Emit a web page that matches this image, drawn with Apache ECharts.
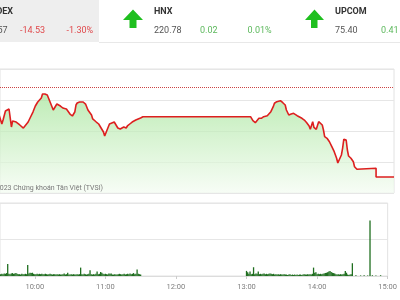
<!DOCTYPE html>
<html><head><meta charset="utf-8">
<script src="https://cdn.jsdelivr.net/npm/echarts/dist/echarts.min.js"></script>
<style>html,body{margin:0;padding:0;background:#fff}#c{width:400px;height:300px}</style>
</head><body><div id="c"></div>
<script>
// ---- data ----
const indexNames    = ["VNINDEX", "HNX", "UPCOM"];
const indexValues   = ["1,103.57", "220.78", "75.40"];
const indexChanges  = ["-14.53", "0.02", "0.41"];
const indexPercents = ["-1.30%", "0.01%", "0.55%"];

const hourLabels = ["09:00","10:00","11:00","12:00","13:00","14:00","15:00"];

const refPrice = 1116.98;
const priceTimes = ["09:29","09:30","09:32","09:33","09:35","09:36","09:38","09:39","09:40","09:41","09:44","09:47","09:50","09:51","09:54","09:56","09:58",
 "10:00","10:02","10:05","10:06","10:08","10:10","10:11","10:13","10:15","10:16","10:18","10:21","10:23","10:26","10:27","10:29","10:31","10:32","10:33","10:34","10:35","10:37","10:40","10:42","10:44","10:47","10:48","10:51","10:53","10:55","10:57","10:58",
 "11:00","11:02","11:03","11:06","11:07","11:09","11:11","11:12","11:14","11:16","11:17","11:19","11:21","11:22","11:24","11:26","11:28","11:30",
 "13:00","13:01","13:02","13:04","13:05","13:07","13:08","13:09","13:11","13:14","13:15","13:17","13:19","13:20","13:22","13:23","13:25","13:27","13:29","13:30","13:32","13:34","13:36","13:39","13:40","13:43","13:45","13:47","13:49","13:50","13:52","13:53","13:55","13:57",
 "14:00","14:01","14:02","14:04","14:06","14:08","14:10","14:12","14:13","14:14","14:16","14:17","14:18","14:20","14:21","14:22","14:24","14:26","14:27","14:29","14:30","14:45","14:45","15:00"];
const priceValues = [1113.0,1113.06,1111.13,1111.77,1113.23,1113.39,1113.55,1113.71,1110.65,1111.61,1111.45,1110.97,1110.48,1110.65,1111.45,1112.26,1113.06,
 1114.03,1114.68,1115.32,1115.97,1115.97,1115.81,1115.32,1114.35,1113.39,1113.71,1114.35,1114.03,1113.71,1113.55,1113.23,1112.74,1112.42,1112.58,1113.06,1114.19,1114.52,1114.68,1114.68,1114.35,1113.39,1112.58,1111.94,1111.45,1111.13,1110.48,1109.84,1109.19,
 1110.16,1111.13,1111.45,1111.45,1111.13,1110.48,1110.32,1110.48,1110.65,1110.48,1110.81,1111.13,1111.45,1111.61,1111.77,1111.94,1112.10,1112.31,
 1112.31,1112.05,1111.66,1111.34,1111.66,1112.05,1112.31,1112.05,1112.31,1112.47,1112.58,1113.11,1113.92,1114.47,1114.73,1115.00,1114.89,1114.56,1114.19,1113.39,1112.58,1112.74,1112.85,1112.47,1112.31,1112.05,1111.77,1111.34,1110.81,1110.27,1111.50,1110.60,1110.27,1111.50,
 1110.97,1110.16,1109.08,1108.82,1108.27,1107.47,1106.66,1105.60,1104.84,1105.05,1106.13,1107.21,1108.66,1108.55,1106.94,1105.97,1105.60,1105.05,1104.24,1103.82,1103.98,1104.00,1102.58,1102.58];

const volMorningStart = "09:31";
const volMorning = [0.5,0.6,0.5,0.7,0.6,0.8,3.3,0.6,0.5,0.7,0.8,0.6,0.7,0.8,0.6,0.5,0.5,0.4,0.6,0.5,
 0.5,0.6,0.5,3.0,0.7,0.9,0.8,0.9,0.6,0.5,0.5,0.6,0.5,0.6,0.5,0.6,0.5,0.5,0.6,0.5,
 0.4,0.5,0.6,0.5,0.4,0.5,0.5,0.4,0.5,0.4,0.5,0.4,0.4,0.5,0.7,0.4,0.5,0.9,0.4,0.4,
 0.5,0.4,0.5,0.4,0.4,0.5,0.4,0.5,2.3,0.5,0.4,0.6,0.5,0.4,0.5,0.6,1.6,0.5,0.4,0.5,
 0.4,0.6,1.2,0.5,0.6,1.1,0.9,0.6,0.5,0.6,0.5,0.4,0.7,0.6,0.7,0.4,0.4,0.5,0.4,0.4,
 0.5,0.6,0.5,0.4,0.5,0.6,0.4,0.5,0.6,0.5,0.7,0.5,0.6,0.8,0.5,0.6,1.8,0.6,0.5,0.4];
const volAfternoonStart = "13:00";
const volAfternoon = [1.4,1.0,0.6,1.2,0.5,0.6,2.4,0.5,0.7,0.6,1.2,0.5,0.6,0.5,0.6,0.7,0.5,0.6,0.5,0.6,
 0.7,0.6,0.5,0.6,0.4,0.5,0.4,0.5,0.4,0.5,0.4,0.4,0.5,0.4,0.4,0.3,0.4,0.5,0.3,0.4,
 0.3,0.4,0.3,0.4,0.3,0.4,0.4,0.3,0.4,0.5,0.4,0.4,0.5,0.4,0.5,0.4,0.6,2.3,0.9,1.0,
 0.5,0.6,0.5,0.6,0.5,0.6,0.7,0.8,0.9,1.0,1.2,1.4,1.1,0.9,0.8,0.7,0.5,0.4,0.5,0.4,
 0.5,0.4,0.5,0.6,1.4,0.9,0.4,0.3,0.4,0.5,3.5];
const volExtraTimes  = ["14:33","14:37","14:40","14:43","14:45","14:47","14:50","14:54"];
const volExtraValues = [0.2,0.15,0.2,0.15,15.2,0.2,0.15,0.2];

// ---- helpers ----
function toMin(t){ const p=t.split(':'); return (+p[0]-9)*60 + (+p[1]); }
const priceData = priceTimes.map((t,i)=>[toMin(t), priceValues[i]]);
const volData = [];
volMorning.forEach((v,i)=>volData.push([toMin(volMorningStart)+i, v]));
volAfternoon.forEach((v,i)=>volData.push([toMin(volAfternoonStart)+i, v]));
volExtraTimes.forEach((t,i)=>volData.push([toMin(t), volExtraValues[i]]));
const tickMinutes = hourLabels.map(toMin);

const X_MIN = 30.45, X_MAX = 360;   // visible window of the trading day

const FONT = 'Roboto';
const red = '#e0484b', green = '#5cb85c', dark = '#555';
const F = '9px ' + FONT, FB = 'bold 9px ' + FONT;
const graphics = [
  {type:'rect', shape:{x:0,y:0,width:99,height:42}, style:{fill:'#eeeeee'}, silent:true},
  {type:'line', shape:{x1:99,y1:42.5,x2:400,y2:42.5}, style:{stroke:'#e8e8e8',lineWidth:1}},
  {type:'polygon', shape:{points:[[123,20],[133,9.5],[143,20],[136.5,20],[136.5,28],[129.5,28],[129.5,20]]}, style:{fill:'#1fbf1f'}},
  {type:'polygon', shape:{points:[[305,20],[314.5,9.5],[324,20],[317.5,20],[317.5,28],[311,28],[311,20]]}, style:{fill:'#1fbf1f'}},
  {type:'text', style:{x:13,y:12,text:indexNames[0],textAlign:'right',textVerticalAlign:'middle',font:FB,fill:'#333'}},
  {type:'text', style:{x:7.5,y:31,text:indexValues[0],textAlign:'right',textVerticalAlign:'middle',font:F,fill:dark}},
  {type:'text', style:{x:20,y:31,text:indexChanges[0],textVerticalAlign:'middle',font:F,fill:red}},
  {type:'text', style:{x:66.5,y:31,text:indexPercents[0],textVerticalAlign:'middle',font:F,fill:red}},
  {type:'text', style:{x:154,y:12,text:indexNames[1],textVerticalAlign:'middle',font:FB,fill:'#333'}},
  {type:'text', style:{x:154,y:31,text:indexValues[1],textVerticalAlign:'middle',font:F,fill:dark}},
  {type:'text', style:{x:200,y:31,text:indexChanges[1],textVerticalAlign:'middle',font:F,fill:green}},
  {type:'text', style:{x:247.5,y:31,text:indexPercents[1],textVerticalAlign:'middle',font:F,fill:green}},
  {type:'text', style:{x:335,y:12,text:indexNames[2],textVerticalAlign:'middle',font:FB,fill:'#333'}},
  {type:'text', style:{x:335,y:31,text:indexValues[2],textVerticalAlign:'middle',font:F,fill:dark}},
  {type:'text', style:{x:381,y:31,text:indexChanges[2],textVerticalAlign:'middle',font:F,fill:green}},
  {type:'text', style:{x:407,y:31,text:indexPercents[2],textVerticalAlign:'middle',font:F,fill:green}},
  {type:'text', z:100, style:{x:103,y:188.5,text:'©2023 Chứng khoán Tân Việt (TVSI)',textAlign:'right',textVerticalAlign:'middle',font:'7px '+FONT,fill:'#777'}}
];

const chart = echarts.init(document.getElementById('c'), null, {renderer:'canvas'});
chart.setOption({
  animation:false,
  backgroundColor:'#fff',
  graphic: graphics,
  grid:[
    {left:0, right:6, top:69, bottom:107, show:true, borderColor:'#e2e2e2', borderWidth:1, backgroundColor:'transparent'},
    {left:0, right:6, top:203, bottom:24, show:true, borderColor:'#e2e2e2', borderWidth:1, backgroundColor:'transparent'}
  ],
  xAxis:[
    {type:'value', gridIndex:0, min:X_MIN, max:X_MAX, axisLabel:{show:false}, axisTick:{show:false}, axisLine:{show:false}, splitLine:{show:false}},
    {type:'value', gridIndex:1, min:X_MIN, max:X_MAX,
     axisLabel:{customValues:tickMinutes, formatter:v=>hourLabels[tickMinutes.indexOf(Math.round(v))], color:'#808080', fontSize:7.5, fontFamily:FONT, margin:7, showMaxLabel:true, hideOverlap:false},
     axisTick:{show:true, customValues:tickMinutes, length:3, lineStyle:{color:'#ccc'}},
     axisLine:{show:true, lineStyle:{color:'#dcdcdc'}}, splitLine:{show:false}}
  ],
  yAxis:[
    {type:'value', gridIndex:0, min:1100, max:1120, interval:5, axisLabel:{show:false}, axisTick:{show:false}, axisLine:{show:false}, splitLine:{lineStyle:{color:'#e6e6e6'}}},
    {type:'value', gridIndex:1, min:0, max:20, interval:10, axisLabel:{show:false}, axisTick:{show:false}, axisLine:{show:false}, splitLine:{lineStyle:{color:'#e6e6e6'}}}
  ],
  series:[
    {type:'line', xAxisIndex:0, yAxisIndex:0, data:priceData, showSymbol:false, symbol:'none', clip:true,
     lineStyle:{color:'#dd1f1f', width:1.6},
     areaStyle:{origin:'start', color:new echarts.graphic.LinearGradient(0,0,0,1,[{offset:0,color:'#a3e497'},{offset:1,color:'#f4fcf2'}])},
     markLine:{silent:true, symbol:'none', label:{show:false}, lineStyle:{color:'#cc4444', type:'dotted', width:1}, data:[{yAxis:refPrice}]}
    },
    {type:'bar', xAxisIndex:1, yAxisIndex:1, data:volData, barWidth:1.3, clip:true, itemStyle:{color:'#1f6e1f'}}
  ]
});
</script></body></html>
